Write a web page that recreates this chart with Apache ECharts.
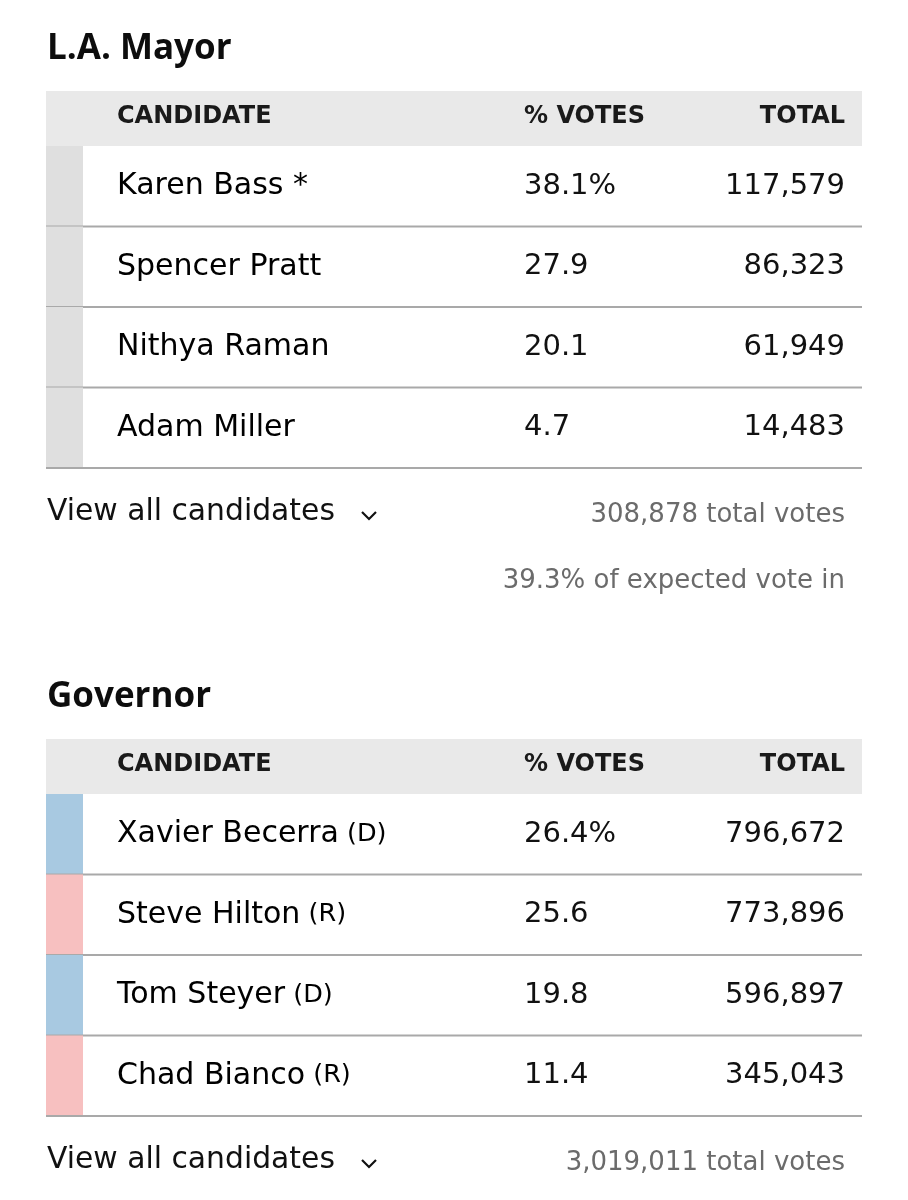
<!DOCTYPE html>
<html>
<head>
<meta charset="utf-8">
<script src="https://cdn.jsdelivr.net/npm/echarts@6/dist/echarts.min.js"></script>
<style>
html,body{margin:0;padding:0;background:#fff;}
#chart{width:908px;height:1200px;}
</style>
</head>
<body>
<div id="chart"></div>
<script>
// ---- Data ----
const headerLabels = ['CANDIDATE', '% VOTES', 'TOTAL'];

const mayorTitle = 'L.A. Mayor';
const mayorNames = ['Karen Bass *', 'Spencer Pratt', 'Nithya Raman', 'Adam Miller'];
const mayorParty = ['', '', '', ''];
const mayorPct = ['38.1%', '27.9', '20.1', '4.7'];
const mayorTotal = ['117,579', '86,323', '61,949', '14,483'];
const mayorFooter = ['308,878 total votes', '39.3% of expected vote in'];

const govTitle = 'Governor';
const govNames = ['Xavier Becerra', 'Steve Hilton', 'Tom Steyer', 'Chad Bianco'];
const govParty = ['D', 'R', 'D', 'R'];
const govPct = ['26.4%', '25.6', '19.8', '11.4'];
const govTotal = ['796,672', '773,896', '596,897', '345,043'];
const govFooter = ['3,019,011 total votes'];

const partyColor = { '': '#dfdfdf', 'D': '#a8c9e1', 'R': '#f7c0c0' };

// ---- Layout / style ----
const TFONT = '"Open Sans", "Liberation Sans", sans-serif';
const FONT = '"DejaVu Sans", "Open Sans", sans-serif';
const TEXT = '#111111';
const GRAY = '#6b6b6b';
const LEFT = 46, RIGHT_EDGE = 862, TABLE_W = RIGHT_EDGE - LEFT;
const COL_NAME = 71, COL_PCT = 478, COL_TOTAL = 799, STRIP_W = 37;
const ROW_H = 80.5, HEAD_H = 55;

const tables = [
  { top: 0, title: mayorTitle, names: mayorNames, party: mayorParty, pct: mayorPct, total: mayorTotal, footer: mayorFooter },
  { top: 648, title: govTitle, names: govNames, party: govParty, pct: govPct, total: govTotal, footer: govFooter }
];

const chart = echarts.init(document.getElementById('chart'), null, { renderer: 'canvas' });

const grids = [], xAxes = [], yAxes = [], series = [], graphics = [];

tables.forEach((t, ti) => {
  const headTop = 91 + t.top;
  const bodyTop = headTop + HEAD_H;
  grids.push({ left: LEFT, top: bodyTop, width: TABLE_W, height: ROW_H * t.names.length });
  xAxes.push({ gridIndex: ti, type: 'value', min: 0, max: 1, show: false });
  yAxes.push({ gridIndex: ti, type: 'category', data: t.names, inverse: true, show: false });

  series.push({
    type: 'custom',
    xAxisIndex: ti,
    yAxisIndex: ti,
    data: t.names.map((n, i) => [0, i]),
    silent: true,
    renderItem: function (params, api) {
      const i = api.value(1);
      const c = api.coord([0, i]);
      const h = api.size([0, 1])[1];
      const cs = params.coordSys;
      const x0 = cs.x, top = c[1] - h / 2, cy = c[1];
      const p = t.party[i];
      const rich = {
        n: { fontFamily: FONT, fontSize: 30, color: TEXT },
        p: { fontFamily: FONT, fontSize: 25.5, color: TEXT }
      };
      const txt = '{n|' + t.names[i] + '}' + (p ? '{p| (' + p + ')}' : '');
      return {
        type: 'group',
        children: [
          { type: 'rect', shape: { x: x0, y: top, width: STRIP_W, height: h }, style: { fill: partyColor[p] } },
          { type: 'text', style: { x: x0 + COL_NAME, y: cy, text: txt, rich: rich, verticalAlign: 'middle', align: 'left' } },
          { type: 'text', style: { x: x0 + COL_PCT, y: cy, text: t.pct[i], fontFamily: FONT, fontSize: 29, fill: TEXT, verticalAlign: 'middle', align: 'left' } },
          { type: 'text', style: { x: x0 + COL_TOTAL, y: cy, text: t.total[i], fontFamily: FONT, fontSize: 29, fill: TEXT, verticalAlign: 'middle', align: 'right' } },
          { type: 'line', shape: { x1: x0, y1: top + h, x2: x0 + cs.width, y2: top + h }, style: { stroke: '#a9a9a9', lineWidth: 2 } }
        ]
      };
    }
  });

  // Title
  graphics.push({ type: 'text', left: 47, top: 32 + t.top, style: { text: t.title, fontFamily: TFONT, fontWeight: 'bold', fontSize: 35, fill: '#0d0d0d' } });
  // Header band
  graphics.push({ type: 'rect', shape: { x: LEFT, y: headTop, width: TABLE_W, height: HEAD_H }, style: { fill: '#e9e9e9' } });
  const hy = headTop + HEAD_H / 2 - 2;
  const hs = { fontFamily: FONT, fontWeight: 'bold', fontSize: 24, fill: '#1a1a1a', verticalAlign: 'middle' };
  graphics.push({ type: 'text', x: LEFT + COL_NAME, y: hy, style: Object.assign({ text: headerLabels[0] }, hs) });
  graphics.push({ type: 'text', x: LEFT + COL_PCT, y: hy, style: Object.assign({ text: headerLabels[1] }, hs) });
  graphics.push({ type: 'text', x: LEFT + COL_TOTAL, y: hy, style: Object.assign({ text: headerLabels[2], align: 'right' }, hs) });

  // Footer
  const fy = bodyTop + ROW_H * t.names.length + 44;
  graphics.push({ type: 'text', x: 47, y: fy, style: { text: 'View all candidates', fontFamily: FONT, fontSize: 29.8, fill: TEXT, verticalAlign: 'middle' } });
  graphics.push({ type: 'polyline', shape: { points: [[362, fy + 0], [369, fy + 7], [376, fy + 0]] }, style: { stroke: TEXT, lineWidth: 2.2, fill: null } });
  t.footer.forEach((f, k) => {
    graphics.push({ type: 'text', x: LEFT + COL_TOTAL, y: fy + 3 + k * 66, style: { text: f, fontFamily: FONT, fontSize: 26, fill: GRAY, verticalAlign: 'middle', align: 'right' } });
  });
});

chart.setOption({
  animation: false,
  backgroundColor: '#fff',
  grid: grids,
  xAxis: xAxes,
  yAxis: yAxes,
  series: series,
  graphic: { elements: graphics }
});
</script>
</body>
</html>
